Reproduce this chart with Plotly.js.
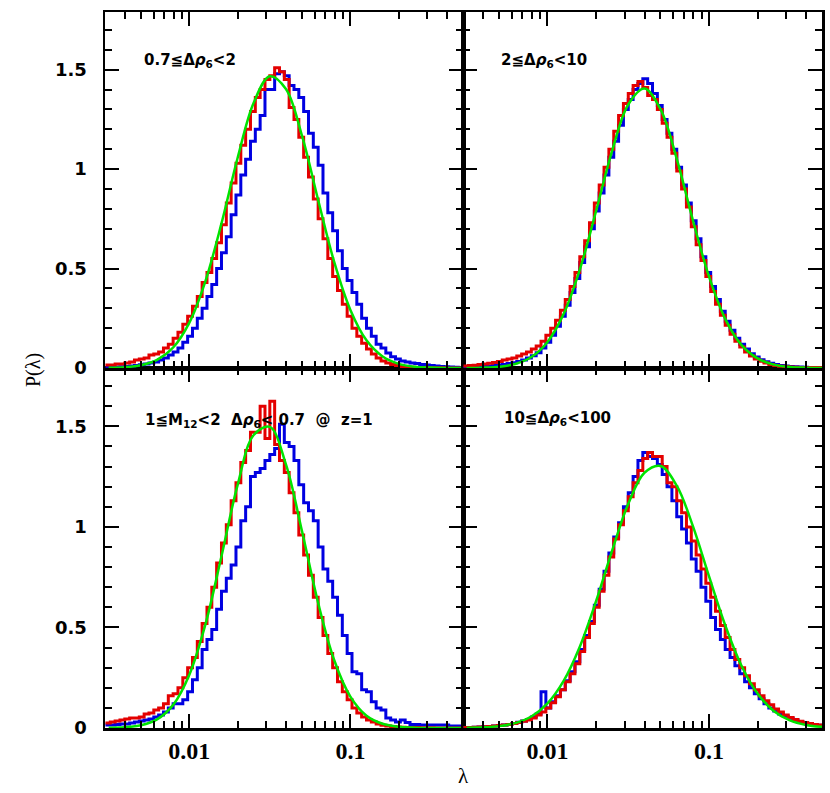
<!DOCTYPE html>
<html>
<head>
<meta charset="utf-8">
<script src="https://cdn.plot.ly/plotly-3.0.1.min.js"></script>
<style>html,body{margin:0;padding:0;background:#fff}#chart{width:830px;height:793px}</style>
</head>
<body>
<div id="chart"></div>
<script>
// log10(lambda) histogram bin centres (shared by all panels)
const logLambdaCenters = [-2.505,-2.475,-2.445,-2.415,-2.385,-2.355,-2.325,-2.295,-2.265,-2.235,
 -2.205,-2.175,-2.145,-2.115,-2.085,-2.055,-2.025,-1.995,-1.965,-1.935,
 -1.905,-1.875,-1.845,-1.815,-1.785,-1.755,-1.725,-1.695,-1.665,-1.635,
 -1.605,-1.575,-1.545,-1.515,-1.485,-1.455,-1.425,-1.395,-1.365,-1.335,
 -1.305,-1.275,-1.245,-1.215,-1.185,-1.155,-1.125,-1.095,-1.065,-1.035,
 -1.005,-0.975,-0.945,-0.915,-0.885,-0.855,-0.825,-0.795,-0.765,-0.735,
 -0.705,-0.675,-0.645,-0.615,-0.585,-0.555,-0.525,-0.495,-0.465,-0.435,
 -0.405,-0.375,-0.345,-0.315];

// top-left: 0.7 <= Δρ6 < 2
const tlRed = [0.015,0.015,0.02,0.02,0.025,0.03,0.04,0.045,0.05,0.065,
 0.07,0.08,0.10,0.12,0.15,0.18,0.22,0.26,0.31,0.36,
 0.43,0.48,0.55,0.63,0.72,0.83,0.93,1.03,1.12,1.20,
 1.29,1.36,1.40,1.45,1.47,1.51,1.49,1.45,1.31,1.25,
 1.16,1.06,0.96,0.85,0.75,0.65,0.55,0.46,0.39,0.32,
 0.26,0.20,0.16,0.125,0.095,0.07,0.05,0.035,0.025,0.018,
 0.012,0.008,0.006,0.004,0.003,0.002,0.002,0.001,0.001,0.001,
 0,0,0,0];
const tlBlue = [0.003,0.004,0.005,0.006,0.008,0.01,0.013,0.016,0.02,0.025,
 0.03,0.04,0.05,0.065,0.08,0.10,0.13,0.16,0.20,0.25,
 0.30,0.36,0.42,0.50,0.58,0.66,0.77,0.87,0.97,1.05,
 1.14,1.20,1.27,1.40,1.40,1.48,1.49,1.47,1.42,1.40,
 1.36,1.29,1.18,1.11,1.02,0.88,0.78,0.69,0.59,0.50,
 0.44,0.38,0.32,0.25,0.20,0.16,0.12,0.10,0.075,0.057,
 0.045,0.035,0.03,0.025,0.022,0.018,0.015,0.012,0.01,0.008,
 0.006,0.005,0.004,0.003];

// top-right: 2 <= Δρ6 < 10
const trRed = [0.01,0.012,0.014,0.017,0.02,0.024,0.028,0.033,0.04,0.045,
 0.05,0.06,0.07,0.08,0.095,0.11,0.135,0.165,0.20,0.24,
 0.29,0.345,0.41,0.48,0.56,0.64,0.73,0.83,0.92,1.01,
 1.10,1.19,1.27,1.33,1.38,1.42,1.44,1.41,1.37,1.35,
 1.30,1.23,1.16,1.08,0.99,0.90,0.81,0.71,0.62,0.54,
 0.46,0.385,0.32,0.265,0.215,0.17,0.135,0.105,0.08,0.06,
 0.045,0.034,0.025,0.018,0.013,0.009,0.007,0.005,0.004,0.003,
 0.002,0.002,0.002,0.002];
const trBlue = [0.003,0.004,0.005,0.006,0.008,0.01,0.012,0.015,0.018,0.022,
 0.027,0.033,0.04,0.05,0.062,0.077,0.10,0.13,0.165,0.21,
 0.26,0.315,0.38,0.45,0.53,0.61,0.70,0.79,0.88,0.97,
 1.06,1.14,1.22,1.30,1.35,1.40,1.43,1.455,1.43,1.38,
 1.32,1.25,1.18,1.10,1.01,0.92,0.83,0.74,0.65,0.56,
 0.48,0.41,0.345,0.285,0.235,0.19,0.15,0.12,0.095,0.072,
 0.055,0.042,0.032,0.024,0.018,0.013,0.01,0.008,0.006,0.005,
 0.004,0.003,0.002,0.002];

// bottom-left: 1 <= M12 < 2, Δρ6 < 0.7 @ z=1
const blRed = [0.025,0.03,0.035,0.04,0.045,0.05,0.05,0.055,0.07,0.075,
 0.09,0.10,0.12,0.16,0.17,0.20,0.25,0.30,0.35,0.43,
 0.52,0.60,0.70,0.82,0.92,1.01,1.13,1.22,1.32,1.38,
 1.47,1.47,1.60,1.44,1.625,1.41,1.33,1.27,1.17,1.07,
 0.96,0.86,0.76,0.65,0.55,0.46,0.37,0.30,0.23,0.18,
 0.14,0.10,0.075,0.055,0.04,0.03,0.02,0.014,0.01,0.007,
 0.005,0.004,0.003,0.002,0.002,0.001,0.001,0.001,0,0,
 0,0,0,0];
const blBlue = [0.015,0.015,0.018,0.02,0.02,0.025,0.03,0.035,0.04,0.045,
 0.055,0.065,0.08,0.10,0.12,0.12,0.14,0.18,0.24,0.30,
 0.39,0.44,0.49,0.59,0.68,0.745,0.81,0.90,1.03,1.10,
 1.25,1.27,1.29,1.33,1.36,1.39,1.51,1.42,1.40,1.33,
 1.21,1.12,1.08,1.03,0.90,0.79,0.73,0.65,0.56,0.46,
 0.37,0.28,0.27,0.19,0.18,0.13,0.10,0.09,0.05,0.04,
 0.03,0.04,0.027,0.018,0.018,0.015,0.015,0.015,0.015,0.015,
 0.015,0.01,0.01,0.01];

// bottom-right: 10 <= Δρ6 < 100
const brRed = [0.002,0.003,0.004,0.005,0.006,0.008,0.01,0.012,0.015,0.018,
 0.022,0.027,0.033,0.04,0.05,0.065,0.08,0.10,0.125,0.155,
 0.19,0.23,0.27,0.32,0.38,0.45,0.52,0.60,0.68,0.76,
 0.85,0.94,1.01,1.08,1.15,1.22,1.28,1.34,1.37,1.35,
 1.35,1.30,1.22,1.20,1.13,1.07,1.00,0.93,0.86,0.79,
 0.72,0.65,0.58,0.51,0.45,0.39,0.34,0.30,0.26,0.22,
 0.19,0.16,0.135,0.115,0.095,0.08,0.065,0.052,0.042,0.034,
 0.027,0.022,0.018,0.015];
const brBlue = [0.002,0.003,0.004,0.005,0.006,0.008,0.01,0.012,0.015,0.018,
 0.022,0.028,0.035,0.042,0.055,0.07,0.18,0.10,0.13,0.16,
 0.19,0.235,0.28,0.33,0.39,0.46,0.53,0.61,0.69,0.78,
 0.87,0.95,1.02,1.10,1.17,1.25,1.33,1.37,1.35,1.34,
 1.31,1.26,1.20,1.13,1.05,0.99,0.92,0.84,0.78,0.70,
 0.63,0.55,0.49,0.44,0.39,0.35,0.31,0.27,0.23,0.20,
 0.17,0.145,0.12,0.10,0.085,0.07,0.058,0.048,0.04,0.032,
 0.026,0.021,0.017,0.014];

// green fitted curves, sampled in log10(lambda)
const greenLogLambda = [-2.5,-2.4,-2.3,-2.2,-2.1,-2.0,-1.9,-1.8,-1.7,-1.6,-1.5,-1.4,-1.3,-1.2,-1.1,-1.0,-0.9,-0.8,-0.7,-0.6,-0.5,-0.4,-0.3];
const tlGreen = [0.001,0.004,0.014,0.041,0.103,0.227,0.436,0.727,1.056,1.334,1.467,1.403,1.167,0.845,0.532,0.292,0.139,0.058,0.021,0.0065,0.002,0.0005,0.0001];
const trGreen = [0.0004,0.0018,0.0064,0.020,0.055,0.131,0.272,0.495,0.787,1.092,1.325,1.405,1.300,1.052,0.743,0.459,0.247,0.116,0.048,0.017,0.0054,0.0015,0.0003];
const blGreen = [0.001,0.0037,0.0137,0.043,0.115,0.264,0.514,0.854,1.208,1.457,1.497,1.311,0.978,0.622,0.337,0.156,0.061,0.021,0.006,0.0015,0.0003,0.0001,0];
const brGreen = [0.001,0.0032,0.0093,0.0243,0.0574,0.122,0.234,0.404,0.629,0.882,1.115,1.269,1.303,1.205,1.004,0.754,0.511,0.311,0.171,0.085,0.038,0.0152,0.0055];

// ticks and labels
const xMajorVals = [0.01, 0.1];
const xMajorText = ['0.01', '0.1'];
const xMinorVals = [0.004,0.005,0.006,0.007,0.008,0.009,0.02,0.03,0.04,0.05,0.06,0.07,0.08,0.09,0.2,0.3,0.4];
const yMajorVals = [0, 0.5, 1, 1.5];
const yMajorText = ['0', '0.5', '1', '1.5'];
const xRange = [0.003, 0.5];
const yRange = [0, 1.79];

const panelLabels = [
  '0.7≦Δ<i>ρ</i><sub>6</sub><2',
  '2≦Δ<i>ρ</i><sub>6</sub><10',
  '1≦M<sub>12</sub><2\u00a0\u00a0Δ<i>ρ</i><sub>6</sub>< 0.7\u00a0\u00a0@\u00a0\u00a0z=1',
  '10≦Δ<i>ρ</i><sub>6</sub><100'
];

const RED = 'rgb(228,0,0)', BLUE = 'rgb(0,0,225)', GREEN = 'rgb(0,228,0)';

function stepTrace(vals, xa, ya, color) {
  const n = logLambdaCenters.length;
  const half = (logLambdaCenters[1] - logLambdaCenters[0]) / 2;
  const xs = [Math.pow(10, logLambdaCenters[0] - half)], ys = [vals[0]];
  for (let i = 0; i < n; i++) { xs.push(Math.pow(10, logLambdaCenters[i])); ys.push(vals[i]); }
  xs.push(Math.pow(10, logLambdaCenters[n - 1] + half)); ys.push(vals[n - 1]);
  return {x: xs, y: ys, xaxis: xa, yaxis: ya, type: 'scatter', mode: 'lines',
          line: {shape: 'hvh', color: color, width: 3}, hoverinfo: 'skip'};
}
function curveTrace(vals, xa, ya) {
  return {x: greenLogLambda.map(v => Math.pow(10, v)), y: vals, xaxis: xa, yaxis: ya,
          type: 'scatter', mode: 'lines', line: {shape: 'spline', color: GREEN, width: 2.5}, hoverinfo: 'skip'};
}

const traces = [
  stepTrace(blBlue, 'x', 'y', BLUE), stepTrace(blRed, 'x', 'y', RED), curveTrace(blGreen, 'x', 'y'),
  stepTrace(brBlue, 'x2', 'y2', BLUE), stepTrace(brRed, 'x2', 'y2', RED), curveTrace(brGreen, 'x2', 'y2'),
  stepTrace(tlBlue, 'x3', 'y3', BLUE), stepTrace(tlRed, 'x3', 'y3', RED), curveTrace(tlGreen, 'x3', 'y3'),
  stepTrace(trBlue, 'x4', 'y4', BLUE), stepTrace(trRed, 'x4', 'y4', RED), curveTrace(trGreen, 'x4', 'y4')
];

const W = 830, H = 793;
const leftDom = [105 / W, 463 / W], rightDom = [463 / W, 822 / W];
const botDom = [(H - 728) / H, (H - 368) / H], topDom = [(H - 368) / H, (H - 12) / H];

function xAxis(dom, anchor, labels) {
  return {domain: dom, anchor: anchor, type: 'log', range: xRange.map(Math.log10),
    tickmode: 'array', tickvals: xMajorVals, ticktext: xMajorText, showticklabels: labels,
    ticks: 'inside', ticklen: 14, tickwidth: 2, tickcolor: '#000', mirror: 'allticks',
    showline: true, linewidth: 2.5, linecolor: '#000', showgrid: false, zeroline: false,
    ticklabelstandoff: 0,
    tickfont: {family: 'Liberation Serif, serif', size: 24, color: '#000', weight: 'bold'},
    minor: {tickmode: 'array', tickvals: xMinorVals, ticks: 'inside', ticklen: 7, tickwidth: 2, tickcolor: '#000', showgrid: false},
    fixedrange: true};
}
function yAxis(dom, anchor, labels) {
  return {domain: dom, anchor: anchor, range: yRange,
    tickmode: 'array', tickvals: yMajorVals, ticktext: yMajorText, showticklabels: labels,
    ticks: 'inside', ticklen: 14, tickwidth: 2, tickcolor: '#000', mirror: 'allticks',
    showline: true, linewidth: 2.5, linecolor: '#000', showgrid: false, zeroline: false,
    ticklabelstandoff: 12,
    tickfont: {family: 'DejaVu Sans, sans-serif', size: 18, color: '#000', weight: 'bold'},
    minor: {tick0: 0, dtick: 0.1, ticks: 'inside', ticklen: 7, tickwidth: 2, tickcolor: '#000', showgrid: false},
    fixedrange: true};
}

const labelFont = {family: 'DejaVu Sans, sans-serif', size: 15, color: '#000', weight: 'bold'};
const annPos = [[142 / W, (H - 61) / H], [499 / W, (H - 61) / H], [143 / W, (H - 420) / H], [502 / W, (H - 418) / H]];
const annotations = panelLabels.map((t, k) => ({text: t, xref: 'paper', yref: 'paper', x: annPos[k][0], y: annPos[k][1],
  xanchor: 'left', yanchor: 'middle', showarrow: false, font: labelFont}));
annotations.push({text: 'λ', xref: 'paper', yref: 'paper', x: 463 / W, y: (H - 776) / H, xanchor: 'center', yanchor: 'middle',
  showarrow: false, font: {family: 'Liberation Serif, serif', size: 21, color: '#000'}});
annotations.push({text: 'P(λ)', xref: 'paper', yref: 'paper', x: 34 / W, y: (H - 370) / H, xanchor: 'center', yanchor: 'middle',
  textangle: -90, showarrow: false, font: {family: 'Liberation Serif, serif', size: 20, color: '#000'}});

const layout = {
  width: W, height: H, margin: {l: 0, r: 0, t: 0, b: 0}, showlegend: false,
  paper_bgcolor: '#fff', plot_bgcolor: '#fff',
  xaxis: xAxis(leftDom, 'y', true), yaxis: yAxis(botDom, 'x', true),
  xaxis2: xAxis(rightDom, 'y2', true), yaxis2: yAxis(botDom, 'x2', false),
  xaxis3: xAxis(leftDom, 'y3', false), yaxis3: yAxis(topDom, 'x3', true),
  xaxis4: xAxis(rightDom, 'y4', false), yaxis4: yAxis(topDom, 'x4', false),
  annotations: annotations
};

Plotly.newPlot('chart', traces, layout, {staticPlot: true, displayModeBar: false});
</script>
</body>
</html>
